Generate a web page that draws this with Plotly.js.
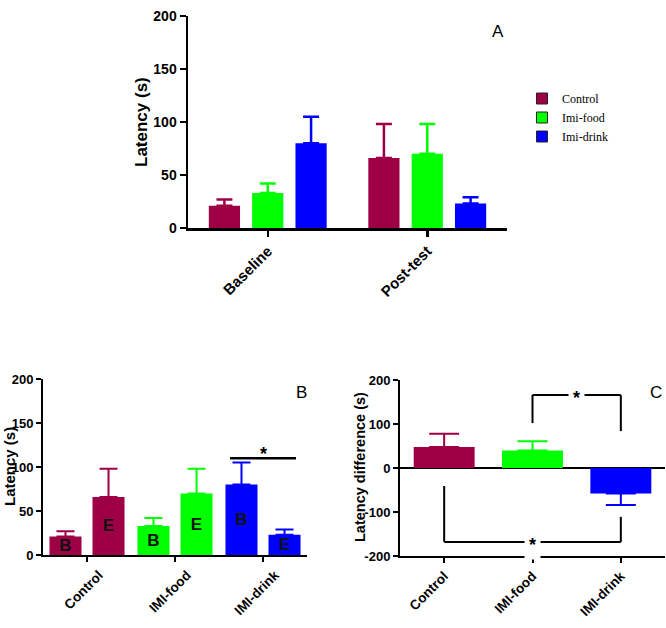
<!DOCTYPE html>
<html>
<head>
<meta charset="utf-8">
<script src="https://cdn.plot.ly/plotly-3.0.1.min.js"></script>
<style>
  html, body { margin: 0; padding: 0; background: #fff; }
  #chart { width: 666px; height: 628px; }
</style>
</head>
<body>
<div id="chart"></div>
<script>
// Test phases and treatment groups
const phases = ['Baseline', 'Post-test'];
const groupNames = ['Control', 'Imi-food', 'Imi-drink'];
const groupTicks = ['Control', 'IMI-food', 'IMI-drink'];

// Latency (s): mean and SEM per group
const baselineMean = [21, 33, 80];
const baselineSem = [6, 9, 25];
const postMean = [66, 70, 23];
const postSem = [32, 28, 6];

// Latency difference (post - baseline), mean and SEM
const diffMean = [48, 40, -58];
const diffSem = [30, 21, 26];

// Bar labels inside panel B
const baselineTag = 'B';
const postTag = 'E';

// Axis ticks
const latencyTicks = [0, 50, 100, 150, 200];
const diffTicks = [-200, -100, 0, 100, 200];

// Significance markers
const sigB = { from: 1.625, to: 2.375, level: 110 };
const sigCUpper = { a: 1, b: 2, top: 166, startA: 102, startB: 84 };
const sigCLower = { a: 0, b: 2, bottom: -168, startA: -41, startB: -111 };

const colors = ['#9e0046', '#00ff00', '#0000ff'];
const FONT = 'Liberation Sans, Arial, sans-serif';
const W = 666, H = 628;
const px = v => v / W;
const py = v => 1 - v / H;

const traces = [];

// Panel A: grouped bars per phase
groupNames.forEach((g, i) => {
  traces.push({
    type: 'bar', xaxis: 'x', yaxis: 'y',
    x: phases, y: [baselineMean[i], postMean[i]],
    marker: { color: colors[i], line: { width: 0 } },
    error_y: { type: 'data', symmetric: false,
      array: [baselineSem[i], postSem[i]], arrayminus: [0, 0],
      color: colors[i], thickness: 2.5, width: 8 },
    showlegend: false, hoverinfo: 'skip'
  });
});

// Legend entries for panel A (markers only, no drawn points)
groupNames.forEach((g, i) => {
  traces.push({
    type: 'scatter', mode: 'markers', xaxis: 'x', yaxis: 'y',
    x: [phases[0]], y: [null], name: g,
    marker: { symbol: 'square', size: 11, color: colors[i], line: { color: '#222', width: 1 } },
    showlegend: true, hoverinfo: 'skip'
  });
});

// Panel B: baseline (B) and end (E) bars per group
const barW = 0.364, halfGap = 0.0625;
const tagFont = { family: FONT, size: 17, color: '#111', weight: 600 };
groupTicks.forEach((g, i) => {
  [[baselineMean, baselineSem, baselineTag, -barW - halfGap],
   [postMean, postSem, postTag, halfGap]].forEach(([means, sems, tag, off]) => {
    traces.push({
      type: 'bar', xaxis: 'x2', yaxis: 'y2',
      x: [g], y: [means[i]], width: barW, offset: off,
      marker: { color: colors[i], line: { width: 0 } },
      text: [tag], textposition: 'inside', insidetextanchor: 'middle',
      constraintext: 'none', textangle: 0, textfont: tagFont,
      error_y: { type: 'data', symmetric: false, array: [sems[i]], arrayminus: [0],
        color: colors[i], thickness: 2, width: 9 },
      showlegend: false, hoverinfo: 'skip'
    });
  });
});

// Panel C: latency difference per group
groupTicks.forEach((g, i) => {
  const up = diffMean[i] >= 0;
  traces.push({
    type: 'bar', xaxis: 'x3', yaxis: 'y3',
    x: [g], y: [diffMean[i]], width: 0.69, offset: -0.345,
    marker: { color: colors[i], line: { width: 0 } },
    error_y: { type: 'data', symmetric: false,
      array: [up ? diffSem[i] : 0], arrayminus: [up ? 0 : diffSem[i]],
      color: colors[i], thickness: 2, width: 15 },
    showlegend: false, hoverinfo: 'skip'
  });
});

const boldFont = size => ({ family: FONT, size: size, color: '#000', weight: 700 });

const xCommon = {
  type: 'category', showline: true, linecolor: '#000', ticks: 'outside',
  tickcolor: '#000', showgrid: false, zeroline: false, tickangle: -45, fixedrange: true
};
const yCommon = {
  showline: true, linecolor: '#000', ticks: 'outside', tickcolor: '#000',
  showgrid: false, fixedrange: true
};

const line = (xref, yref, x0, y0, x1, y1, w) => ({
  type: 'line', xref: xref, yref: yref, x0: x0, y0: y0, x1: x1, y1: y1,
  line: { color: '#000', width: w }
});

const shapes = [
  line('x2', 'y2', sigB.from, sigB.level, sigB.to, sigB.level, 2.5),
  line('x3', 'y3', sigCUpper.a, sigCUpper.startA, sigCUpper.a, sigCUpper.top, 2),
  line('x3', 'y3', sigCUpper.a, sigCUpper.top, sigCUpper.b, sigCUpper.top, 2),
  line('x3', 'y3', sigCUpper.b, sigCUpper.top, sigCUpper.b, sigCUpper.startB, 2),
  line('x3', 'y3', sigCLower.a, sigCLower.startA, sigCLower.a, sigCLower.bottom, 2),
  line('x3', 'y3', sigCLower.a, sigCLower.bottom, sigCLower.b, sigCLower.bottom, 2),
  line('x3', 'y3', sigCLower.b, sigCLower.bottom, sigCLower.b, sigCLower.startB, 2)
];

const paperText = (t, x, y, font, angle) => ({
  text: t, xref: 'paper', yref: 'paper', x: px(x), y: py(y),
  xanchor: 'center', yanchor: 'middle', textangle: angle || 0,
  showarrow: false, font: font
});

const star = (xref, yref, x, y, shift, bg) => ({
  text: '*', xref: xref, yref: yref, x: x, y: y, yshift: shift,
  xanchor: 'center', yanchor: 'middle',
  showarrow: false, bgcolor: bg, borderpad: bg === '#fff' ? 4 : 0,
  font: { family: FONT, size: 18, color: '#000', weight: 700 }
});

const letterFont = { family: FONT, size: 17, color: '#000' };
const annotations = [
  paperText('A', 498, 32, letterFont),
  paperText('B', 301, 392, letterFont),
  paperText('C', 656, 392, letterFont),
  // axis titles
  paperText('Latency (s)', 141, 122, boldFont(17), -90),
  paperText('Latency (s)', 9, 467, boldFont(15), -90),
  paperText('Latency difference (s)', 360, 467, boldFont(14.5), -90),
  // significance stars
  star('x2', 'y2', (sigB.from + sigB.to) / 2, sigB.level, 4, 'rgba(0,0,0,0)'),
  star('x3', 'y3', (sigCUpper.a + sigCUpper.b) / 2, sigCUpper.top, -3, '#fff'),
  star('x3', 'y3', (sigCLower.a + sigCLower.b) / 2, sigCLower.bottom, -3, '#fff')
];

const layout = {
  width: W, height: H,
  margin: { l: 0, r: 0, t: 0, b: 0 },
  paper_bgcolor: '#fff', plot_bgcolor: 'rgba(0,0,0,0)',
  font: { family: FONT, color: '#000' },
  barmode: 'group', bargap: 0.185, bargroupgap: 0.28,
  showlegend: true,
  legend: {
    x: px(522), y: py(84), xanchor: 'left', yanchor: 'top',
    bgcolor: 'rgba(0,0,0,0)', tracegroupgap: 0,
    font: { family: 'Liberation Serif, Times New Roman, serif', size: 12, color: '#000' }
  },
  xaxis: Object.assign({}, xCommon, {
    domain: [px(188), px(507)], anchor: 'y', linewidth: 2.5, tickwidth: 2.5, ticklen: 6,
    tickfont: boldFont(15)
  }),
  yaxis: Object.assign({}, yCommon, {
    domain: [py(228), py(16)], anchor: 'x', range: [0, 200], tickvals: latencyTicks,
    linewidth: 2.5, tickwidth: 2.5, ticklen: 6, zeroline: false,
    tickfont: boldFont(14)
  }),
  xaxis2: Object.assign({}, xCommon, {
    domain: [px(43), px(307)], anchor: 'y2', linewidth: 2, tickwidth: 2, ticklen: 5,
    tickfont: boldFont(13.5), ticklabelshift: 12
  }),
  yaxis2: Object.assign({}, yCommon, {
    domain: [py(555), py(379)], anchor: 'x2', range: [0, 200], tickvals: latencyTicks,
    linewidth: 2, tickwidth: 2, ticklen: 5, zeroline: false,
    tickfont: boldFont(13)
  }),
  xaxis3: Object.assign({}, xCommon, {
    domain: [px(400), px(665)], anchor: 'y3', linewidth: 2, tickwidth: 2, ticklen: 5,
    tickfont: boldFont(13.5)
  }),
  yaxis3: Object.assign({}, yCommon, {
    domain: [py(556), py(380)], anchor: 'x3', range: [-200, 200],
    tickvals: diffTicks, ticktext: diffTicks.map(String),
    linewidth: 2, tickwidth: 2, ticklen: 5,
    zeroline: true, zerolinecolor: '#000', zerolinewidth: 1.5,
    tickfont: boldFont(13)
  }),
  shapes: shapes,
  annotations: annotations
};

Plotly.newPlot('chart', traces, layout, { staticPlot: true, displayModeBar: false });
</script>
</body>
</html>
